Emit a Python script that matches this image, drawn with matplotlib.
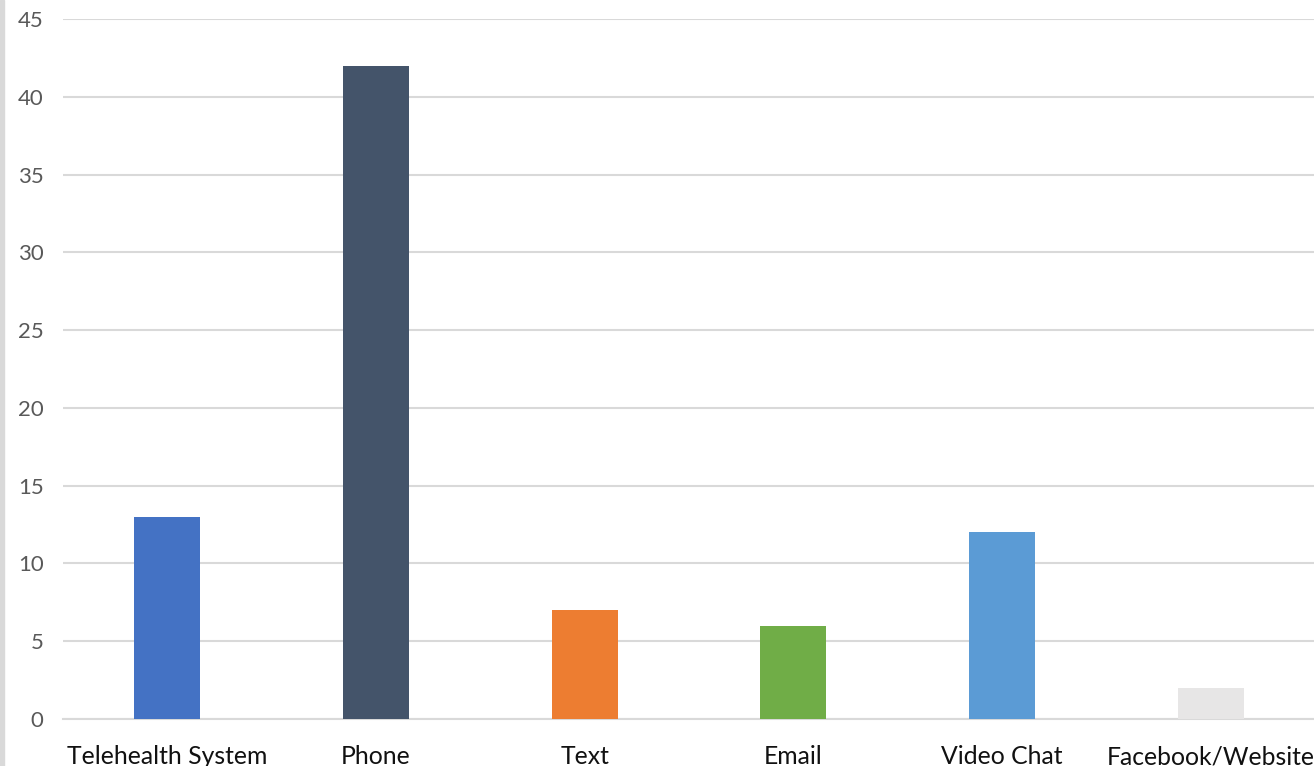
import matplotlib.pyplot as plt
from matplotlib.patches import Rectangle

# contact methods and counts
categories = ['Telehealth System', 'Phone', 'Text', 'Email', 'Video Chat', 'Facebook/Website']
counts = [13, 42, 7, 6, 12, 2]
bar_colors = ['#4472C4', '#44546A', '#ED7D31', '#70AD47', '#5B9BD5', '#E7E6E6']
yticks = [0, 5, 10, 15, 20, 25, 30, 35, 40, 45]

plt.rcParams['font.family'] = ['Lato', 'DejaVu Sans']

W, H = 1314, 766
fig = plt.figure(figsize=(W / 100, H / 100), dpi=100)
ax = fig.add_axes([63 / W, 47 / H, 1252 / W, 700 / H])

x = list(range(len(categories)))
ax.bar(x, counts, width=0.316, color=bar_colors, zorder=3)

ax.set_xlim(-0.5, len(categories) - 0.5)
ax.set_ylim(0, 45)
ax.set_yticks(yticks)
ax.set_xticks(x)
ax.set_xticklabels(categories, fontsize=17.8, color='#111111')
ax.tick_params(axis='y', labelsize=16, labelcolor='#595959', length=0, pad=14)
ax.tick_params(axis='x', length=0, pad=19)

ax.yaxis.grid(True, color='#D9D9D9', linewidth=1.5, zorder=0)
ax.set_axisbelow(True)
for side in ['top', 'right', 'left']:
    ax.spines[side].set_visible(False)
ax.spines['bottom'].set_color('#D9D9D9')
ax.spines['bottom'].set_linewidth(1.5)

# thin gray strip on the far left
fig.patches.append(Rectangle((0, 0), 4 / W, 1, transform=fig.transFigure,
                             color='#D9D9D9', zorder=0))

fig.savefig('out.png', dpi=100)
